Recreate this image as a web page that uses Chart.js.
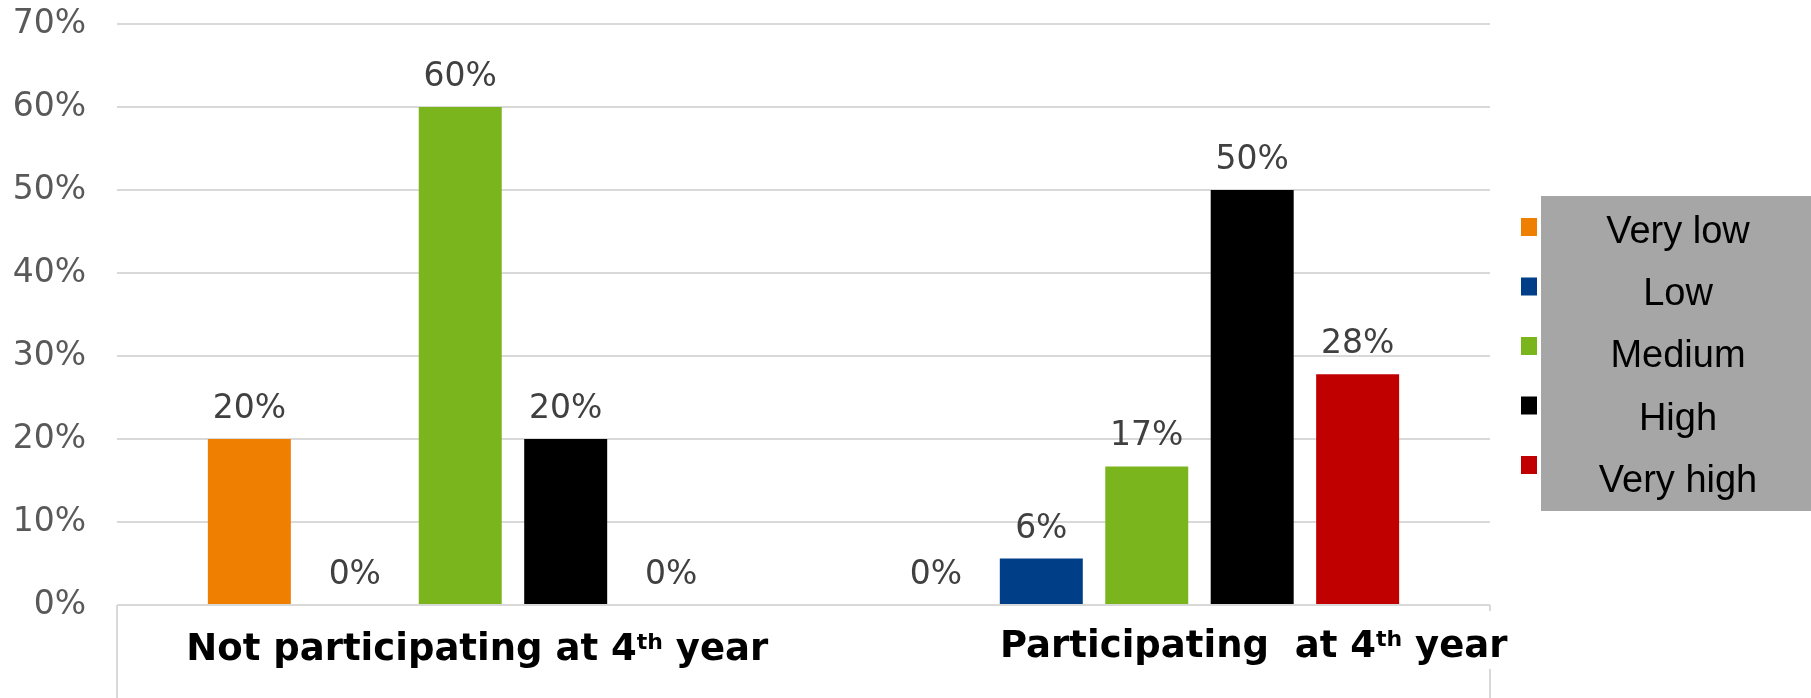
<!DOCTYPE html>
<html>
<head>
<meta charset="utf-8">
<script src="https://cdn.jsdelivr.net/npm/chart.js@4.4.1/dist/chart.umd.min.js"></script>
<style>
  html, body { margin: 0; padding: 0; background: #ffffff; }
  #wrap { width: 1811px; height: 698px; }
</style>
</head>
<body>
<div id="wrap"><canvas id="chart" width="1811" height="698"></canvas></div>
<script>
// Group labels (the "th" after the year digit is set as a superscript when drawn)
const categories = ['Not participating at 4th year', 'Participating  at 4th year'];
// Self-rated levels, one bar series each
const levels = ['Very low', 'Low', 'Medium', 'High', 'Very high'];
const veryLow  = [20, 0];
const low      = [0, 5.6];
const medium   = [60, 16.7];
const high     = [20, 50];
const veryHigh = [0, 27.8];
const yTicks = [0, 10, 20, 30, 40, 50, 60, 70];

const levelColors = ['#ee7f00', '#003f87', '#7ab51d', '#000000', '#c00000'];
const seriesValues = [veryLow, low, medium, high, veryHigh];

Chart.defaults.font.family = "'DejaVu Sans', Verdana, sans-serif";

// Percentage labels above every bar
const valueLabels = {
  id: 'valueLabels',
  afterDatasetsDraw(chart) {
    const ctx = chart.ctx;
    ctx.save();
    ctx.font = "33px 'DejaVu Sans'";
    ctx.fillStyle = '#404040';
    ctx.textAlign = 'center';
    ctx.textBaseline = 'alphabetic';
    chart.data.datasets.forEach((ds, i) => {
      const meta = chart.getDatasetMeta(i);
      meta.data.forEach((bar, j) => {
        const text = Math.round(ds.data[j]) + '%';
        ctx.fillText(text, bar.x, bar.y - 21);
      });
    });
    ctx.restore();
  }
};

// Category captions below the axis, with side rules of the axis box
const groupCaptions = {
  id: 'groupCaptions',
  afterDraw(chart, args, opts) {
    const ctx = chart.ctx;
    const area = chart.chartArea;
    const xs = chart.scales.x;
    ctx.save();
    ctx.strokeStyle = '#d9d9d9';
    ctx.lineWidth = 2;
    ctx.beginPath();
    ctx.moveTo(area.left, area.bottom);
    ctx.lineTo(area.left, chart.height);
    ctx.moveTo(area.right, area.bottom);
    ctx.lineTo(area.right, chart.height);
    ctx.stroke();

    const mainFont = "bold 37px 'DejaVu Sans'";
    const supFont = "bold 22px 'DejaVu Sans'";
    chart.data.labels.forEach((label, i) => {
      const m = label.match(/^(.*\d)(th)(.*)$/);
      const parts = m ? [m[1], m[2], m[3]] : [label, '', ''];
      ctx.font = mainFont;
      const w0 = ctx.measureText(parts[0]).width;
      const w2 = ctx.measureText(parts[2]).width;
      ctx.font = supFont;
      const w1 = ctx.measureText(parts[1]).width;
      const total = w0 + w1 + w2;
      const cx = xs.getPixelForValue(i) + opts.shift[i];
      const base = opts.baseline[i];
      let x = cx - total / 2;
      ctx.fillStyle = '#ffffff';
      ctx.fillRect(x - 4, base - 46, total + 8, 58);
      ctx.fillStyle = '#000000';
      ctx.textBaseline = 'alphabetic';
      ctx.textAlign = 'left';
      ctx.font = mainFont;
      ctx.fillText(parts[0], x, base);
      x += w0;
      ctx.font = supFont;
      ctx.fillText(parts[1], x, base - 11);
      x += w1;
      ctx.font = mainFont;
      ctx.fillText(parts[2], x, base);
    });
    ctx.restore();
  }
};

// Legend on a grey panel at the right
const panelLegend = {
  id: 'panelLegend',
  afterDraw(chart, args, opts) {
    const ctx = chart.ctx;
    ctx.save();
    ctx.fillStyle = opts.panelColor;
    ctx.fillRect(opts.panel.x, opts.panel.y, chart.width - opts.panel.x, opts.panel.h);
    ctx.font = "38px 'Liberation Sans', Arial, sans-serif";
    ctx.textAlign = 'center';
    ctx.textBaseline = 'alphabetic';
    chart.data.datasets.forEach((ds, i) => {
      const my = opts.markerY + i * opts.markerStep;
      ctx.fillStyle = ds.backgroundColor;
      ctx.fillRect(opts.markerX, my - opts.markerH / 2, opts.markerW, opts.markerH);
      ctx.fillStyle = '#000000';
      ctx.fillText(ds.label, opts.textX, opts.textY + i * opts.textStep);
    });
    ctx.restore();
  }
};

const datasets = levels.map((name, i) => ({
  label: name,
  data: seriesValues[i],
  backgroundColor: levelColors[i],
  borderWidth: 0,
  categoryPercentage: 0.768,
  barPercentage: 0.787
}));

new Chart(document.getElementById('chart'), {
  type: 'bar',
  data: { labels: categories, datasets: datasets },
  plugins: [valueLabels, groupCaptions, panelLegend],
  options: {
    responsive: false,
    animation: false,
    events: [],
    layout: { padding: { top: 0, right: 321, bottom: 0, left: 0 } },
    plugins: {
      legend: { display: false },
      tooltip: { enabled: false },
      groupCaptions: { shift: [17, 107], baseline: [660, 657] },
      panelLegend: {
        panelColor: '#a6a6a6',
        panel: { x: 1541, y: 196, h: 315 },
        markerX: 1521, markerW: 16, markerH: 18, markerY: 227, markerStep: 59.5,
        textX: 1678, textY: 243, textStep: 62.2
      }
    },
    scales: {
      x: {
        type: 'category',
        offset: true,
        grid: { display: false },
        border: { display: false },
        ticks: { display: false },
        afterFit(scale) { scale.height = 93; }
      },
      y: {
        min: 0,
        max: 70,
        afterBuildTicks(scale) { scale.ticks = yTicks.map(v => ({ value: v })); },
        grid: { color: '#d9d9d9', lineWidth: 2, drawTicks: false },
        border: { display: false },
        ticks: {
          padding: 31,
          color: '#595959',
          font: { size: 33, family: "'DejaVu Sans'" },
          callback: v => v + '%'
        },
        afterFit(scale) {
          scale.width = 117;
          scale.paddingTop = 24;
          scale.paddingBottom = 0;
        }
      }
    }
  }
});
</script>
</body>
</html>
